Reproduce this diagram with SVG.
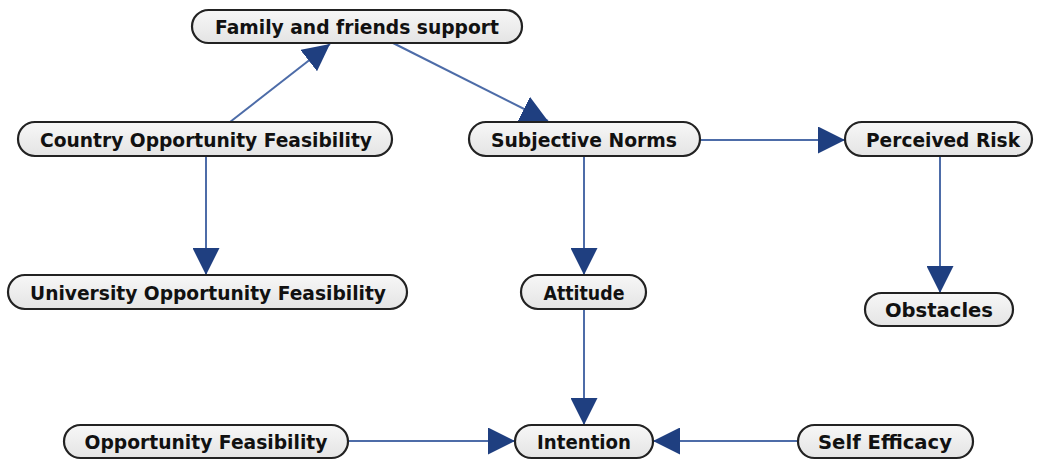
<svg xmlns="http://www.w3.org/2000/svg" width="1042" height="460" viewBox="0 0 1042 460">
<defs>
<linearGradient id="g" x1="0" y1="0" x2="0" y2="1">
<stop offset="0" stop-color="#f7f7f7"/>
<stop offset="1" stop-color="#e4e4e4"/>
</linearGradient>
<marker id="ah" markerUnits="userSpaceOnUse" markerWidth="27" markerHeight="27" viewBox="0 0 25 25" refX="25" refY="12.5" orient="auto">
<path d="M0,0 L25,12.5 L0,25 Z" fill="#1f3f80"/>
</marker>
</defs>
<style>
.n rect{fill:url(#g);stroke:#222;stroke-width:2.2}
.n text{font-family:"DejaVu Sans",sans-serif;font-weight:bold;font-size:19.5px;fill:#111;text-anchor:middle}
#edges line{stroke:#4d6ca8;stroke-width:2;marker-end:url(#ah)}
</style>
<g id="edges">
<line x1="230" y1="122" x2="330" y2="44"/>
<line x1="393" y1="43" x2="548" y2="121"/>
<line x1="206" y1="156" x2="206" y2="275"/>
<line x1="700" y1="140" x2="845" y2="140"/>
<line x1="584" y1="156" x2="584" y2="275"/>
<line x1="940" y1="156" x2="940" y2="293"/>
<line x1="584" y1="309" x2="584" y2="425"/>
<line x1="348" y1="441" x2="515" y2="441"/>
<line x1="798" y1="441" x2="653" y2="441"/>
</g>
<g id="family" class="n"><rect x="192" y="10" width="330" height="33" rx="16.5"/><text x="357" y="34" textLength="284" lengthAdjust="spacingAndGlyphs">Family and friends support</text></g>
<g id="country" class="n"><rect x="18" y="122" width="374" height="34" rx="17"/><text x="206" y="147" textLength="332" lengthAdjust="spacingAndGlyphs">Country Opportunity Feasibility</text></g>
<g id="subjective" class="n"><rect x="469" y="122" width="231" height="34" rx="17"/><text x="584" y="147" textLength="186" lengthAdjust="spacingAndGlyphs">Subjective Norms</text></g>
<g id="risk" class="n"><rect x="845" y="122" width="187" height="34" rx="17"/><text x="943" y="147" textLength="154" lengthAdjust="spacingAndGlyphs">Perceived Risk</text></g>
<g id="university" class="n"><rect x="8" y="275" width="399" height="34" rx="17"/><text x="208" y="300" textLength="356" lengthAdjust="spacingAndGlyphs">University Opportunity Feasibility</text></g>
<g id="attitude" class="n"><rect x="521" y="275" width="125" height="34" rx="17"/><text x="584" y="300" textLength="81" lengthAdjust="spacingAndGlyphs">Attitude</text></g>
<g id="obstacles" class="n"><rect x="865" y="293" width="148" height="33" rx="16.5"/><text x="939" y="317" textLength="108" lengthAdjust="spacingAndGlyphs">Obstacles</text></g>
<g id="opportunity" class="n"><rect x="64" y="425" width="284" height="33" rx="16.5"/><text x="206" y="449" textLength="243" lengthAdjust="spacingAndGlyphs">Opportunity Feasibility</text></g>
<g id="intention" class="n"><rect x="515" y="425" width="138" height="33" rx="16.5"/><text x="584" y="449" textLength="94" lengthAdjust="spacingAndGlyphs">Intention</text></g>
<g id="selfefficacy" class="n"><rect x="798" y="425" width="175" height="33" rx="16.5"/><text x="885" y="449" textLength="134" lengthAdjust="spacingAndGlyphs">Self Efficacy</text></g>
</svg>
